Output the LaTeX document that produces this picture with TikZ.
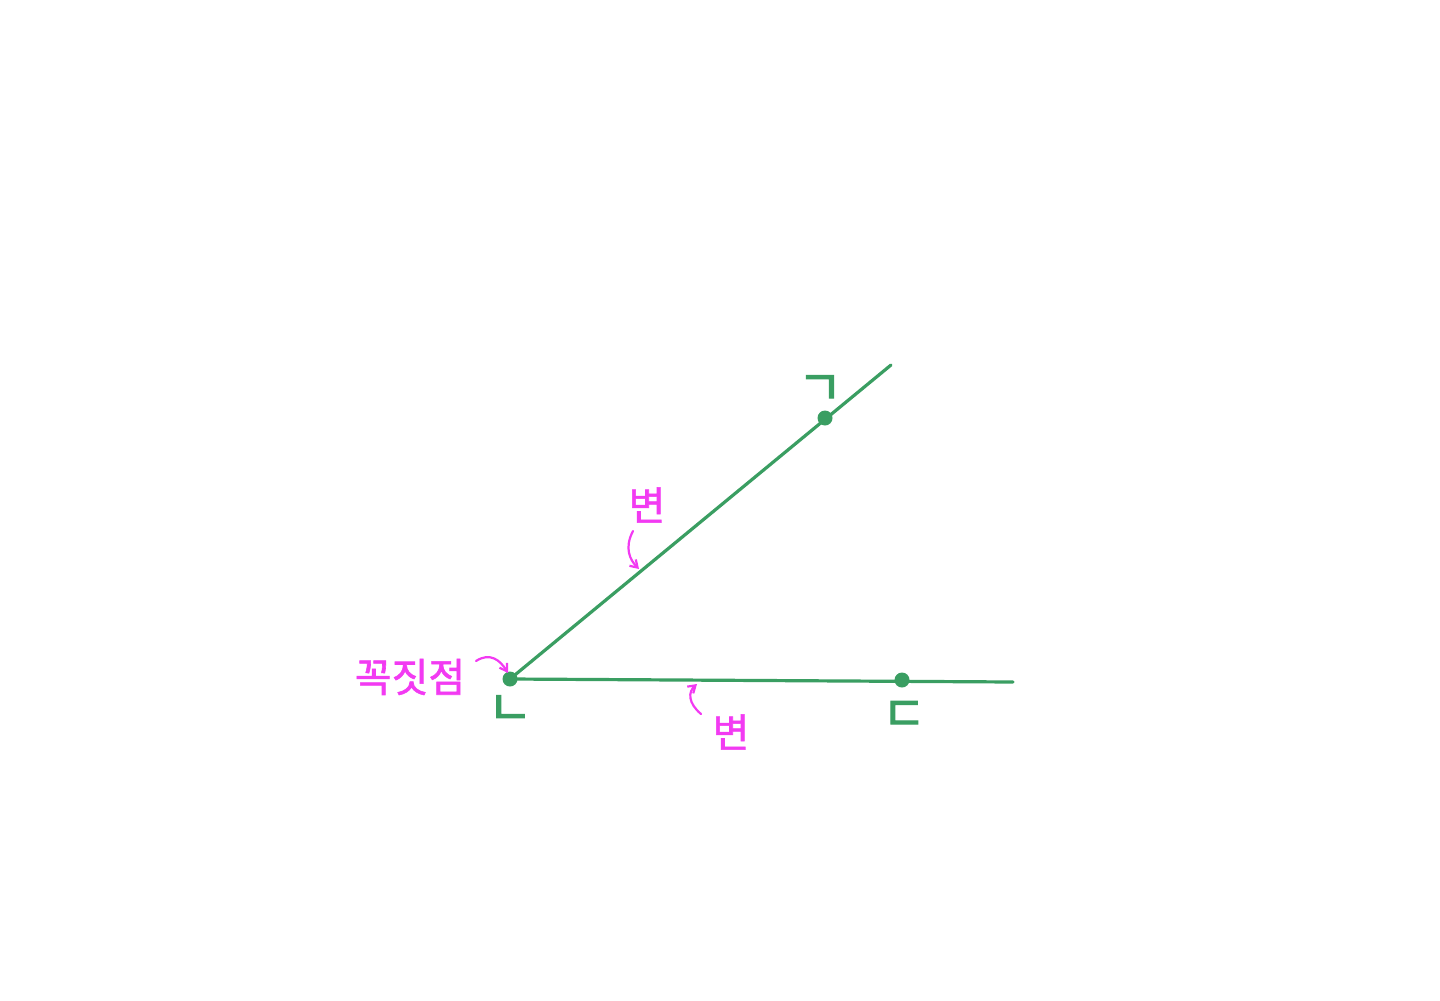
\documentclass[tikz,border=0pt]{standalone}
\usepackage{fontspec}
\usetikzlibrary{arrows.meta}
\newfontfamily\kr[FakeBold=1.5]{Noto Sans CJK KR}
\newfontfamily\krj[FakeBold=2.5]{Noto Sans CJK KR}
\definecolor{gr}{RGB}{58,158,98}
\definecolor{mg}{RGB}{242,58,242}
\begin{document}
\begin{tikzpicture}[x=1pt,y=-1pt,
  ray/.style={draw=gr,line width=3.2pt,line cap=round},
  dotpt/.style={circle,fill=gr,inner sep=0pt,minimum size=15pt},
  glab/.style={text=gr,font=\krj\fontsize{48}{48}\selectfont,inner sep=0pt},
  mlab/.style={text=mg,font=\kr\fontsize{40}{40}\selectfont,inner sep=0pt},
  marr/.style={draw=mg,line width=2.2pt,line cap=round,-{Straight Barb[length=7pt,width=9pt]}}]
\useasboundingbox (0,0) rectangle (1440,1001);
\coordinate (Nc) at (510,679);
\coordinate (E1) at (891,365);
\coordinate (E2) at (1013,682);
\draw[ray] (Nc) -- (E1);
\draw[ray] (Nc) -- (E2);
\node[dotpt] (N) at (Nc) {};
\node[dotpt] (G) at (825,418) {};
\node[dotpt] (D) at (902,680) {};
\node[glab] (lg) at (820,390) {ㄱ};
\node[glab] (ln) at (510,710) {ㄴ};
\node[glab] (ld) at (904,716) {ㄷ};
\node[mlab] (v) at (410,677) {꼭짓점};
\node[mlab] (s1) at (647,505) {변};
\node[mlab] (s2) at (731,732) {변};
\coordinate (a1s) at (476,661);
\coordinate (a1e) at (508,673);
\draw[marr] (a1s) .. controls (490,652) and (500,660) .. (a1e);
\coordinate (a2s) at (633,531);
\coordinate (a2e) at (639,569);
\draw[marr] (a2s) .. controls (624,548) and (630,560) .. (a2e);
\coordinate (a3s) at (701,714);
\coordinate (a3e) at (697,684);
\draw[marr] (a3s) .. controls (688,703) and (688,692) .. (a3e);
\end{tikzpicture}
\end{document}
